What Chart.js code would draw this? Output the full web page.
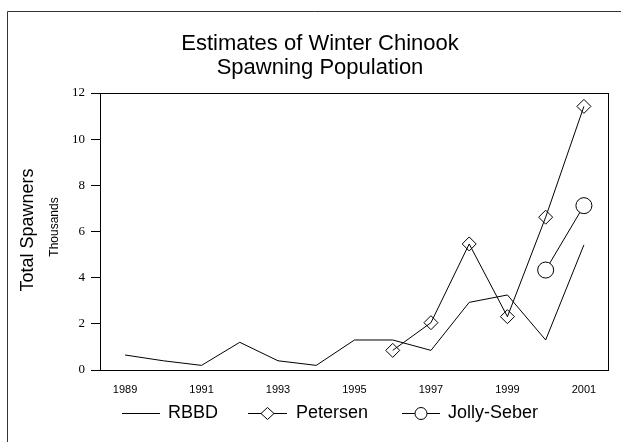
<!DOCTYPE html>
<html>
<head>
<meta charset="utf-8">
<title>Estimates of Winter Chinook Spawning Population</title>
<script src="https://cdn.jsdelivr.net/npm/chart.js@4/dist/chart.umd.min.js"></script>
<style>
  html, body { margin: 0; padding: 0; background: #fff; }
  #wrap { width: 621px; height: 442px; }
</style>
</head>
<body>
<div id="wrap"><canvas id="chart" width="621" height="442"></canvas></div>
<script>
// --- data (thousands of spawners) ---
const years = [1989, 1990, 1991, 1992, 1993, 1994, 1995, 1996, 1997, 1998, 1999, 2000, 2001];
const rbbd = [0.65, 0.4, 0.2, 1.2, 0.4, 0.2, 1.3, 1.3, 0.85, 2.93, 3.25, 1.3, 5.42];
const petersen = [null, null, null, null, null, null, null, 0.85, 2.05, 5.46, 2.31, 6.62, 11.42];
const jollySeber = [null, null, null, null, null, null, null, null, null, null, null, 4.33, 7.12];
const xTickLabels = [1989, 1991, 1993, 1995, 1997, 1999, 2001];
const yTickLabels = [0, 2, 4, 6, 8, 10, 12];

const SANS = '"Liberation Sans", Arial, sans-serif';
const SERIF = '"Liberation Serif", "Times New Roman", serif';

const toPoints = vals => years.map((yr, i) => ({ x: yr, y: vals[i] }));

// frame, plot box, titles and the legend are drawn by hand
const decorPlugin = {
    id: 'decor',
    beforeDraw(chart) {
        const ctx = chart.ctx;
        ctx.save();
        ctx.fillStyle = '#fff';
        ctx.fillRect(0, 0, chart.width, chart.height);
        ctx.strokeStyle = '#333';
        ctx.lineWidth = 1;
        ctx.beginPath();
        ctx.moveTo(7.5, chart.height);
        ctx.lineTo(7.5, 11.5);
        ctx.lineTo(chart.width, 11.5);
        ctx.stroke();
        ctx.restore();
    },
    afterDraw(chart) {
        const ctx = chart.ctx;
        const a = chart.chartArea;
        ctx.save();
        ctx.strokeStyle = '#000';
        ctx.lineWidth = 1;
        ctx.strokeRect(Math.round(a.left) + 0.5, Math.round(a.top) + 0.5,
            Math.round(a.right - a.left), Math.round(a.bottom - a.top));

        // title
        ctx.fillStyle = '#000';
        ctx.textAlign = 'center';
        ctx.textBaseline = 'alphabetic';
        ctx.font = '22px ' + SANS;
        ctx.fillText('Estimates of Winter Chinook', 320, 50);
        ctx.fillText('Spawning Population', 320, 74);

        // y axis titles
        ctx.save();
        ctx.translate(28, 230);
        ctx.rotate(-Math.PI / 2);
        ctx.textBaseline = 'middle';
        ctx.font = '18px ' + SANS;
        ctx.fillText('Total Spawners', 0, 0);
        ctx.restore();
        ctx.save();
        ctx.translate(55, 227);
        ctx.rotate(-Math.PI / 2);
        ctx.textBaseline = 'middle';
        ctx.font = '12px ' + SANS;
        ctx.fillText('Thousands', 0, 0);
        ctx.restore();

        // legend
        const ly = 413.5;
        ctx.font = '18px ' + SANS;
        ctx.textAlign = 'left';
        ctx.textBaseline = 'middle';
        const seg = (x1, x2) => {
            ctx.beginPath();
            ctx.moveTo(x1, ly);
            ctx.lineTo(x2, ly);
            ctx.stroke();
        };
        seg(122, 160);
        ctx.fillText('RBBD', 168, ly);

        seg(248, 287);
        ctx.beginPath();
        ctx.moveTo(267.5, ly - 6);
        ctx.lineTo(274, ly);
        ctx.lineTo(267.5, ly + 6);
        ctx.lineTo(261, ly);
        ctx.closePath();
        ctx.fillStyle = '#fff';
        ctx.fill();
        ctx.stroke();
        ctx.fillStyle = '#000';
        ctx.fillText('Petersen', 296, ly);

        seg(402, 440);
        ctx.beginPath();
        ctx.arc(421, ly, 6, 0, Math.PI * 2);
        ctx.fillStyle = '#fff';
        ctx.fill();
        ctx.stroke();
        ctx.fillStyle = '#000';
        ctx.fillText('Jolly-Seber', 448, ly);
        ctx.restore();
    }
};

new Chart(document.getElementById('chart'), {
    type: 'line',
    data: {
        datasets: [
            {
                label: 'RBBD',
                data: toPoints(rbbd),
                borderColor: '#000',
                borderWidth: 1,
                pointRadius: 0,
                tension: 0
            },
            {
                label: 'Petersen',
                data: toPoints(petersen),
                borderColor: '#000',
                borderWidth: 1,
                pointStyle: 'rectRot',
                pointRadius: 7,
                pointBorderWidth: 1,
                pointBorderColor: '#000',
                pointBackgroundColor: 'rgba(0,0,0,0)',
                spanGaps: false,
                tension: 0
            },
            {
                label: 'Jolly-Seber',
                data: toPoints(jollySeber),
                borderColor: '#000',
                borderWidth: 1,
                pointStyle: 'circle',
                pointRadius: 8,
                pointBorderWidth: 1,
                pointBorderColor: '#000',
                pointBackgroundColor: '#fff',
                tension: 0
            }
        ]
    },
    options: {
        responsive: false,
        animation: false,
        events: [],
        layout: { padding: { left: 0, top: 93, right: 13, bottom: 0 } },
        plugins: {
            legend: { display: false },
            title: { display: false },
            tooltip: { enabled: false }
        },
        scales: {
            x: {
                type: 'linear',
                min: 1988.345,
                max: 2001.63,
                afterFit(scale) { scale.height = 72; },
                afterBuildTicks(scale) {
                    scale.ticks = xTickLabels.map(v => ({ value: v }));
                },
                grid: { display: true, drawOnChartArea: false, drawTicks: false },
                border: { display: true, color: '#000', width: 1 },
                ticks: {
                    color: '#000',
                    font: { family: SANS, size: 11 },
                    padding: 13,
                    maxRotation: 0,
                    autoSkip: false,
                    callback: v => String(v)
                }
            },
            y: {
                min: 0,
                max: 12,
                afterFit(scale) { scale.width = 100; },
                afterBuildTicks(scale) {
                    scale.ticks = yTickLabels.map(v => ({ value: v }));
                },
                grid: { display: true, drawOnChartArea: false, drawTicks: true, tickLength: 9, color: '#000' },
                border: { display: true, color: '#000', width: 1 },
                ticks: {
                    color: '#000',
                    font: { family: SERIF, size: 13 },
                    padding: 6,
                    autoSkip: false
                }
            }
        }
    },
    plugins: [decorPlugin]
});
</script>
</body>
</html>
